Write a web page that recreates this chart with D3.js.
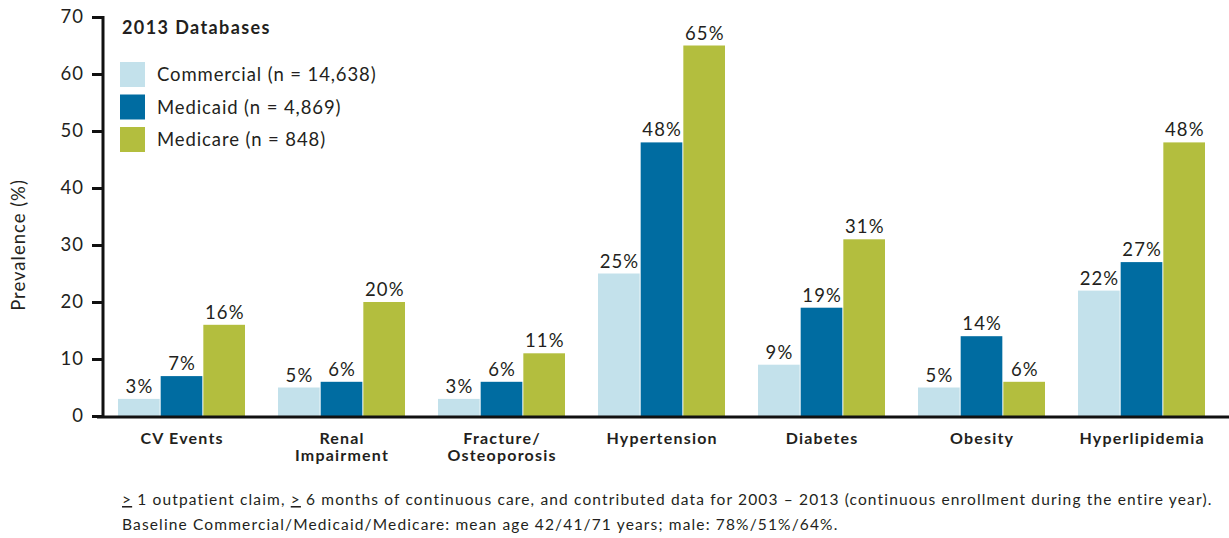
<!DOCTYPE html>
<html>
<head>
<meta charset="utf-8">
<script src="https://cdn.jsdelivr.net/npm/d3@7"></script>
<style>
  html, body { margin: 0; padding: 0; background: #fff; }
  svg { display: block; font-family: Lato, "Noto Sans", sans-serif; }
</style>
</head>
<body>
<svg id="chart" width="1229" height="538"></svg>
<script>
// Prevalence of comorbidities by database, 2013
const categories = [["CV Events"], ["Renal", "Impairment"], ["Fracture/", "Osteoporosis"],
  ["Hypertension"], ["Diabetes"], ["Obesity"], ["Hyperlipidemia"]];
const seriesNames = ["Commercial (n = 14,638)", "Medicaid (n = 4,869)", "Medicare (n = 848)"];
const commercial = [3, 5, 3, 25, 9, 5, 22];
const medicaid   = [7, 6, 6, 48, 19, 14, 27];
const medicare   = [16, 20, 11, 65, 31, 6, 48];
const yTicks = [0, 10, 20, 30, 40, 50, 60, 70];
const colors = ["#c3e1eb", "#006ca1", "#b3be3e"];

const series = [commercial, medicaid, medicare];
const svg = d3.select("#chart");

const y = d3.scaleLinear().domain([0, 70]).range([416, 17]);
const x0 = d3.scaleBand().domain(d3.range(categories.length))
  .range([101.5, 1221.5]).paddingInner(0.2).paddingOuter(0.1);
const x1 = d3.scaleBand().domain(d3.range(series.length)).range([0, x0.bandwidth()]);

// Bars and value labels
const groups = svg.append("g").selectAll("g").data(categories).join("g")
  .attr("transform", (d, i) => `translate(${x0(i)},0)`);

groups.each(function (cat, i) {
  const g = d3.select(this);
  series.forEach((vals, s) => {
    const v = vals[i];
    g.append("rect")
      .attr("x", x1(s) + 0.5)
      .attr("y", y(v))
      .attr("width", x1.bandwidth() - 1)
      .attr("height", y(0) - y(v))
      .attr("fill", colors[s]);
    g.append("text")
      .attr("x", x1(s) + x1.bandwidth() / 2 + 0.6)
      .attr("y", y(v) - 6)
      .attr("text-anchor", "middle")
      .attr("font-size", 18.5)
      .attr("letter-spacing", 1.1)
      .attr("fill", "#231f20")
      .text(v + "%");
  });
});

// Y axis
const yAxis = svg.append("g").attr("transform", "translate(103,0)")
  .call(d3.axisLeft(y).tickValues(yTicks).tickSize(11).tickPadding(8));
yAxis.select(".domain").attr("stroke", "#111").attr("stroke-width", 3)
  .attr("d", `M0,${y(70) - 1}V${y(0)}`);
yAxis.selectAll(".tick line").attr("stroke", "#111").attr("stroke-width", 3);
yAxis.selectAll(".tick text").attr("font-size", 18.5).attr("fill", "#231f20")
  .attr("letter-spacing", 1)
  .attr("font-family", "Lato, 'Noto Sans', sans-serif");

// X baseline
svg.append("line").attr("x1", 97).attr("x2", 1229)
  .attr("y1", y(0) + 1).attr("y2", y(0) + 1)
  .attr("stroke", "#111").attr("stroke-width", 3);

// Category labels
svg.append("g").selectAll("text").data(categories).join("text")
  .attr("x", (d, i) => x0(i) + x0.bandwidth() / 2 + 0.6)
  .attr("y", 444)
  .attr("text-anchor", "middle")
  .attr("font-size", 16)
  .attr("font-weight", "bold")
  .attr("letter-spacing", 1.2)
  .attr("fill", "#231f20")
  .each(function (lines) {
    d3.select(this).selectAll("tspan").data(lines).join("tspan")
      .attr("x", d3.select(this).attr("x"))
      .attr("dy", (d, j) => j === 0 ? 0 : 17)
      .text(d => d);
  });

// Y axis title
svg.append("text")
  .attr("transform", "translate(25,245) rotate(-90)")
  .attr("text-anchor", "middle")
  .attr("font-size", 18.5)
  .attr("letter-spacing", 1)
  .attr("fill", "#231f20")
  .text("Prevalence (%)");

// Legend
const legend = svg.append("g");
legend.append("text").attr("x", 122).attr("y", 34)
  .attr("font-size", 18).attr("font-weight", "bold").attr("letter-spacing", 1.4)
  .attr("fill", "#231f20")
  .text("2013 Databases");
seriesNames.forEach((name, s) => {
  const top = 62 + s * 32.5;
  legend.append("rect").attr("x", 120).attr("y", top)
    .attr("width", 25).attr("height", 25).attr("fill", colors[s]);
  legend.append("text").attr("x", 157).attr("y", top + 19)
    .attr("font-size", 18.5).attr("letter-spacing", 0.9)
    .attr("fill", "#231f20").text(name);
});

// Footnote
const foot = svg.append("g").attr("font-size", 15.5).attr("letter-spacing", 1.15)
  .attr("fill", "#231f20");
const l1 = foot.append("text").attr("x", 122).attr("y", 505);
l1.append("tspan").attr("text-decoration", "underline").text(">");
l1.append("tspan").text(" 1 outpatient claim, ");
l1.append("tspan").attr("text-decoration", "underline").text(">");
l1.append("tspan").text(" 6 months of continuous care, and contributed data for 2003 \u2013 2013 (continuous enrollment during the entire year).");
foot.append("text").attr("x", 122).attr("y", 530)
  .text("Baseline Commercial/Medicaid/Medicare: mean age 42/41/71 years; male: 78%/51%/64%.");
</script>
</body>
</html>
